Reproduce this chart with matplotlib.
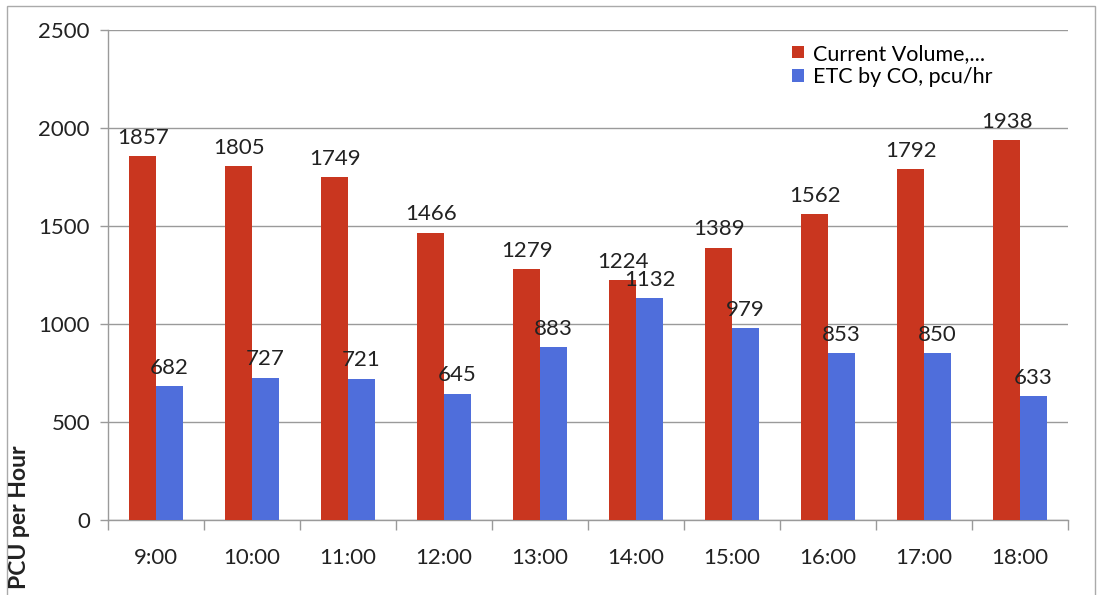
#!/usr/bin/env python3
# Hourly traffic volume vs ETC by CO, grouped bar chart.
import numpy as np
import matplotlib
matplotlib.use("Agg")
import matplotlib.pyplot as plt
from matplotlib.patches import Rectangle

hours = ["9:00", "10:00", "11:00", "12:00", "13:00",
         "14:00", "15:00", "16:00", "17:00", "18:00"]
current_volume = [1857, 1805, 1749, 1466, 1279, 1224, 1389, 1562, 1792, 1938]
etc_by_co = [682, 727, 721, 645, 883, 1132, 979, 853, 850, 633]
series_names = ["Current Volume,...", "ETC by CO, pcu/hr"]

RED = "#C9361F"
BLUE = "#4F6EDB"
GRID = "#9A9A9A"
TXT = "#222222"

plt.rcParams["font.family"] = ["Lato", "DejaVu Sans"]

fig = plt.figure(figsize=(10.99, 5.95), dpi=100)
ax = fig.add_axes([0.0983, 0.126, 0.8735, 0.8234])

x = np.arange(len(hours))
w = 0.28
b1 = ax.bar(x - w / 2, current_volume, w, color=RED, label=series_names[0], zorder=3)
b2 = ax.bar(x + w / 2, etc_by_co, w, color=BLUE, label=series_names[1], zorder=3)

for bars in (b1, b2):
    for r in bars:
        ax.annotate(f"{int(r.get_height())}",
                    (r.get_x() + r.get_width() / 2, r.get_height()),
                    xytext=(0, 6), textcoords="offset points",
                    ha="center", va="bottom", fontsize=16, color=TXT)

ax.set_xlim(-0.5, len(hours) - 0.5)
ax.set_ylim(0, 2500)
ax.set_yticks(np.arange(0, 2501, 500))
ax.yaxis.grid(True, color=GRID, linewidth=1.0, zorder=0)
ax.set_axisbelow(True)

ax.set_xticks(x)
ax.set_xticklabels(hours)
ax.set_xticks(np.arange(-0.5, len(hours)), minor=True)
ax.tick_params(axis="x", which="major", length=0, pad=20, labelsize=16, colors=TXT)
ax.tick_params(axis="x", which="minor", length=7, width=1, color=GRID, direction="out")
ax.tick_params(axis="y", length=6, width=1, color=GRID, labelsize=16,
               labelcolor=TXT, pad=7)

for s in ("top", "right"):
    ax.spines[s].set_visible(False)
for s in ("left", "bottom"):
    ax.spines[s].set_color(GRID)
    ax.spines[s].set_linewidth(1.0)

ax.legend(loc="upper right", bbox_to_anchor=(0.93, 0.99), frameon=False,
          fontsize=15.5, handlelength=0.55, handleheight=0.55, handletextpad=0.4,
          labelspacing=0.15, borderaxespad=0.0)

fig.text(0.018, 0.13, "PCU per Hour", rotation=90, fontsize=16.5, fontweight="bold",
         ha="center", va="center", color=TXT)

fig.patches.append(Rectangle((0.006, -0.05), 0.99, 1.04, transform=fig.transFigure,
                             fill=False, edgecolor="#AAAAAA", linewidth=1.0))

fig.savefig("out.png", dpi=100)
